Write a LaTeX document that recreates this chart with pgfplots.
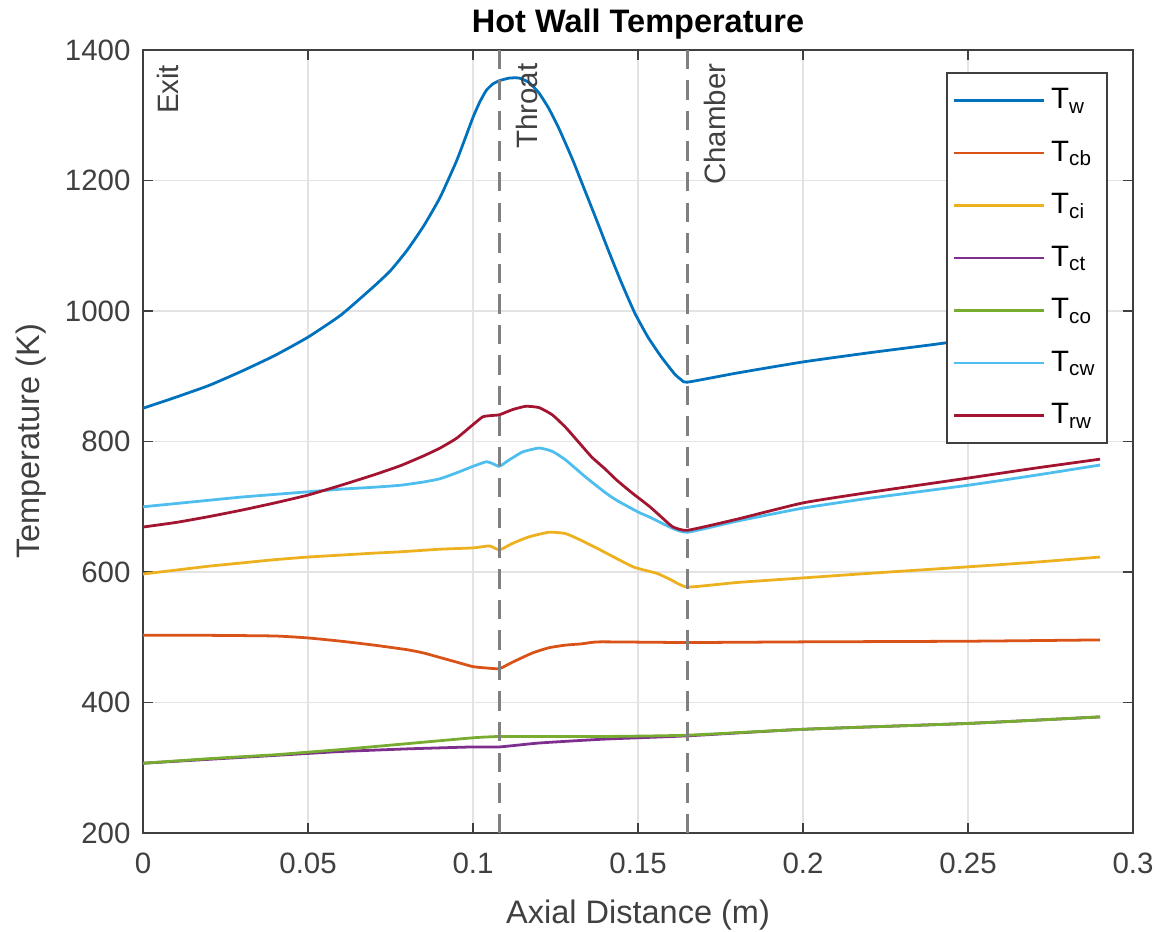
\documentclass[border=0pt]{standalone}
\usepackage{fontspec}
\setmainfont{Liberation Sans}
\usepackage{pgfplots}
\pgfplotsset{compat=1.18}

\definecolor{cw}{HTML}{0072BD}
\definecolor{ccb}{HTML}{D95319}
\definecolor{cci}{HTML}{EDB120}
\definecolor{cct}{HTML}{7E2F8E}
\definecolor{cco}{HTML}{77AC30}
\definecolor{ccw}{HTML}{4DBEEE}
\definecolor{crw}{HTML}{A2142F}
\definecolor{axgray}{HTML}{404040}

\begin{document}
\begin{tikzpicture}
\useasboundingbox (-51.5pt,-35.6pt) rectangle (366.1pt,299.9pt);
\begin{axis}[
  scale only axis, width=356.4pt, height=281.9pt,
  xmin=0, xmax=0.3, ymin=200, ymax=1400,
  xtick={0,0.05,...,0.3}, ytick={200,400,...,1400},
  xticklabels={0,0.05,0.1,0.15,0.2,0.25,0.3},
  yticklabel style={/pgf/number format/1000 sep={}, xshift=-1pt},
  xticklabel style={yshift=-3.5pt},
  /pgf/number format/assume math mode=true,
  tick label style={font=\fontsize{10.6}{12}\selectfont, color=axgray},
  label style={font=\fontsize{11.7}{13}\selectfont, color=axgray},
  title={Hot Wall Temperature},
  title style={font=\bfseries\fontsize{11.7}{13}\selectfont, yshift=-5.8pt},
  xlabel={Axial Distance (m)}, ylabel={Temperature (K)},
  xlabel style={yshift=-2.5pt},
  grid=major, major grid style={gray!22, line width=0.5pt},
  axis line style={axgray, line width=0.8pt},
  tick style={axgray, line width=0.6pt},
  tick align=inside, major tick length=3.6pt,
  every axis plot/.append style={line width=1pt, smooth, tension=0.3},
  legend cell align=left,
  legend style={at={(0.9747,0.9719)}, anchor=north east,
    draw=axgray, line width=0.8pt, font=\fontsize{10.6}{12}\selectfont,
    row sep=6.1pt, inner xsep=2pt, inner ysep=3.5pt},
  legend image code/.code={\draw[#1, line width=1pt] (0cm,0cm) -- (1.14cm,0cm);},
]
\addplot[cw] coordinates {
(0,851) (0.01,868) (0.02,886) (0.03,908) (0.04,932) (0.05,960) (0.06,994)
(0.07,1038) (0.075,1062) (0.08,1093) (0.085,1130) (0.09,1174) (0.095,1230)
(0.098,1270) (0.1,1297) (0.102,1320) (0.104,1338) (0.106,1348) (0.108,1353)
(0.111,1357) (0.114,1357) (0.117,1350)
(0.12,1334) (0.123,1310) (0.126,1280) (0.13,1234) (0.133,1196) (0.137,1145)
(0.141,1093) (0.145,1043) (0.149,997) (0.153,960) (0.157,930) (0.161,904)
(0.163,895) (0.165,891) (0.18,905) (0.2,922) (0.22,936) (0.24,949)
(0.26,963) (0.29,985)};
\addplot[ccb] coordinates {
(0,503) (0.02,503) (0.04,502) (0.05,499) (0.06,494) (0.07,488) (0.08,481)
(0.085,476) (0.09,469) (0.095,462) (0.1,455) (0.104,453) (0.108,452)
(0.112,462) (0.118,476) (0.123,484) (0.128,488) (0.133,490) (0.1385,493)
(0.165,492) (0.2,493) (0.25,494) (0.29,496)};
\addplot[cci] coordinates {
(0,597) (0.01,603) (0.02,609) (0.03,614) (0.04,619) (0.05,623) (0.06,626)
(0.07,629) (0.078,631) (0.09,635) (0.1,637) (0.105,640) (0.108,634)
(0.112,644) (0.117,654) (0.123,661) (0.128,659) (0.133,648) (0.1385,634)
(0.1485,608) (0.1557,598) (0.16,588) (0.165,577) (0.18,584) (0.2,591)
(0.22,598) (0.25,608) (0.27,615) (0.29,623)};
\addplot[cct] coordinates {
(0,307) (0.02,313) (0.04,319) (0.05,322) (0.06,325) (0.08,329) (0.1,332)
(0.108,332) (0.12,338) (0.14,344) (0.165,349) (0.2,359) (0.25,368) (0.29,378)};
\addplot[cco] coordinates {
(0,307) (0.02,314) (0.04,320) (0.05,324) (0.06,328) (0.08,337) (0.1,346)
(0.108,348) (0.12,348) (0.14,348) (0.165,350) (0.2,359) (0.25,368) (0.29,378)};
\addplot[ccw] coordinates {
(0,700) (0.01,705) (0.02,710) (0.03,715) (0.04,719) (0.05,723) (0.06,727)
(0.07,730) (0.078,733) (0.085,738) (0.09,743) (0.095,752) (0.1,762)
(0.104,769) (0.106,766) (0.108,762) (0.111,772) (0.115,784) (0.12,790)
(0.124,785) (0.128,772) (0.134,746) (0.14,722) (0.1435,710) (0.15,692)
(0.1536,684) (0.16,668) (0.165,661) (0.18,678) (0.2,698) (0.22,713)
(0.25,733) (0.27,748) (0.29,764)};
\addplot[crw] coordinates {
(0,669) (0.01,676) (0.02,685) (0.03,695) (0.04,706) (0.05,718) (0.06,733)
(0.07,749) (0.078,763) (0.085,778) (0.09,790) (0.095,805) (0.1,826)
(0.103,838) (0.106,840) (0.108,841) (0.112,849) (0.116,854) (0.12,852)
(0.124,841) (0.128,822) (0.132,799) (0.136,776) (0.14,758) (0.1435,741)
(0.148,722) (0.1536,700) (0.158,680) (0.1606,669) (0.165,664) (0.18,681)
(0.2,706) (0.22,722) (0.25,744) (0.27,759) (0.29,773)};
\legend{T\textsubscript{w}, T\textsubscript{cb}, T\textsubscript{ci},
  T\textsubscript{ct}, T\textsubscript{co}, T\textsubscript{cw}, T\textsubscript{rw}}
% section markers
\addplot[gray, line width=1.1pt, dash pattern=on 7pt off 4pt, sharp plot, forget plot]
  coordinates {(0.108,200) (0.108,1400)};
\addplot[gray, line width=1.1pt, dash pattern=on 7pt off 4pt, sharp plot, forget plot]
  coordinates {(0.165,200) (0.165,1400)};
\node[rotate=90, anchor=east, font=\fontsize{10.6}{12}\selectfont, text=axgray, inner sep=0pt]
  at (axis cs:0.0076,1378) {Exit};
\node[rotate=90, anchor=east, font=\fontsize{10.6}{12}\selectfont, text=axgray, inner sep=0pt]
  at (axis cs:0.1164,1380) {Throat};
\node[rotate=90, anchor=east, font=\fontsize{10.6}{12}\selectfont, text=axgray, inner sep=0pt]
  at (axis cs:0.1733,1380) {Chamber};
\end{axis}
\end{tikzpicture}
\end{document}
